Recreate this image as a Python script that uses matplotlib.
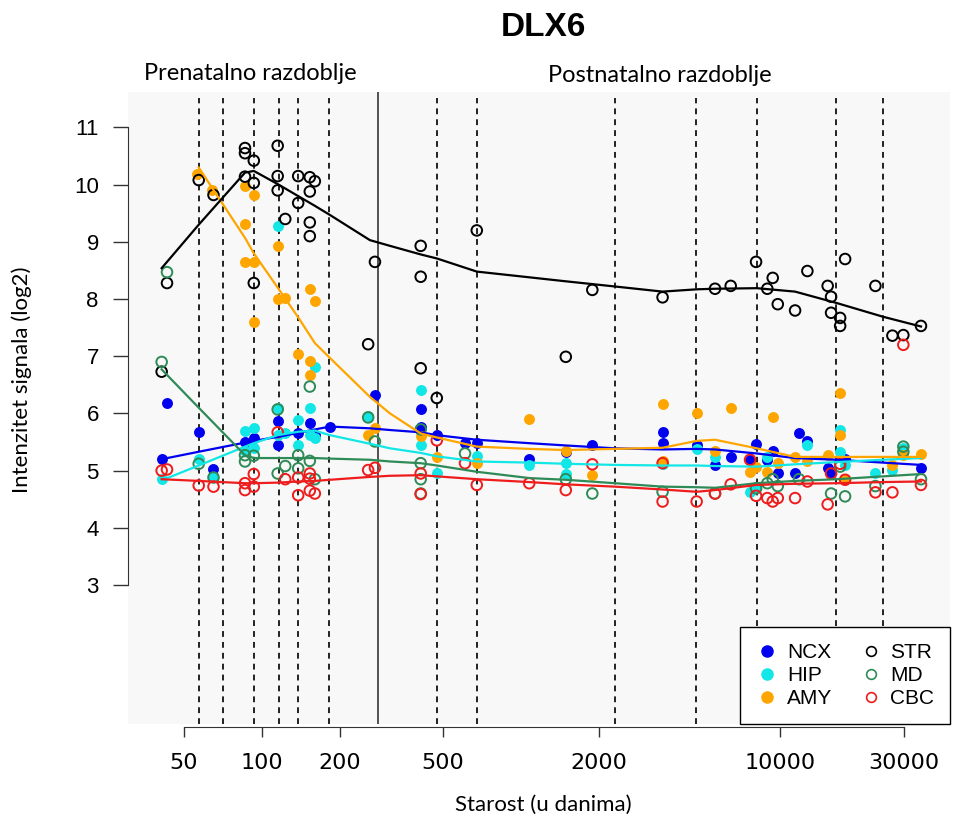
import numpy as np
import matplotlib.pyplot as plt
from matplotlib.lines import Line2D
from matplotlib.ticker import NullLocator

# age in days, signal intensity (log2)
ncx_age = [41, 43, 57, 65, 86, 93, 115, 115, 138, 153, 160, 183, 273, 410, 410, 473, 608, 675, 1076, 1489,
           1885, 3520, 3520, 4765, 5610, 6450, 7660, 8080, 8930, 9370, 9800, 11430, 11840, 12750, 15270,
           15740, 17830, 35000]
ncx_val = [5.21, 6.18, 5.67, 5.03, 5.50, 5.57, 5.86, 5.44, 5.66, 5.84, 5.62, 5.77, 6.32, 6.07, 5.76, 5.62,
           5.49, 5.48, 5.20, 5.33, 5.45, 5.67, 5.49, 5.45, 5.09, 5.24, 5.19, 5.47, 5.19, 5.35, 4.96, 4.96,
           5.65, 5.51, 5.04, 4.95, 5.20, 5.04]

hip_age = [41, 57, 65, 86, 93, 86, 93, 115, 115, 115, 123, 138, 138, 153, 160, 153, 160, 257, 410, 410,
           473, 675, 1076, 1489, 1489, 3520, 4765, 5610, 7660, 8080, 8930, 12750, 17060, 17060, 17830,
           23340, 27150, 29920]
hip_val = [4.85, 5.20, 4.88, 5.69, 5.74, 5.35, 5.39, 9.28, 6.10, 5.62, 5.65, 5.88, 5.45, 6.09, 6.82, 5.62,
           5.57, 5.95, 6.41, 5.45, 4.95, 5.25, 5.10, 5.13, 4.94, 5.11, 5.37, 5.24, 4.63, 4.72, 5.24, 5.45,
           5.71, 5.33, 5.10, 4.96, 5.01, 5.39]

amy_age = [56, 64, 86, 93, 86, 86, 93, 93, 115, 115, 123, 153, 160, 138, 153, 153, 257, 273, 410, 473,
           675, 1076, 1489, 1885, 3520, 3520, 4765, 5610, 6450, 7660, 8080, 8930, 9370, 9800, 11430,
           12750, 15270, 17060, 17060, 17830, 27150, 29920, 35000]
amy_val = [10.18, 9.91, 9.98, 9.82, 9.31, 8.65, 8.65, 7.59, 8.92, 8.00, 8.01, 8.18, 7.96, 7.04, 6.91, 6.67,
           5.62, 5.74, 5.61, 5.23, 5.13, 5.90, 5.35, 4.92, 6.16, 5.16, 6.00, 5.34, 6.09, 4.98, 5.07, 4.98,
           5.94, 5.13, 5.24, 5.16, 5.27, 6.35, 5.62, 4.85, 5.09, 5.27, 5.29]

str_age = [41, 43, 57, 65, 86, 86, 93, 86, 93, 93, 115, 115, 115, 123, 138, 138, 153, 160, 153, 153, 153,
           257, 273, 410, 410, 410, 473, 675, 1489, 1885, 3520, 5610, 6450, 8080, 8930, 9370, 9800, 11430,
           12750, 15270, 15740, 15740, 17060, 17060, 17830, 23340, 27150, 29920, 35000]
str_val = [6.73, 8.28, 10.08, 9.82, 10.64, 10.55, 10.42, 10.14, 10.03, 8.28, 10.68, 10.15, 9.90, 9.40,
           10.15, 9.68, 10.13, 10.06, 9.88, 9.34, 9.10, 7.21, 8.65, 8.93, 8.39, 6.79, 6.27, 9.20, 6.99,
           8.16, 8.03, 8.18, 8.23, 8.65, 8.18, 8.37, 7.91, 7.80, 8.49, 8.23, 8.04, 7.76, 7.67, 7.53, 8.70,
           8.23, 7.36, 7.37, 7.53]

md_age = [41, 43, 57, 65, 86, 86, 93, 115, 115, 123, 138, 138, 153, 153, 160, 257, 273, 410, 410, 410,
          410, 608, 1489, 1885, 3520, 5610, 8080, 8930, 9370, 9800, 11840, 15740, 17060, 17830, 23340,
          29920, 29920, 35000]
md_val = [6.90, 8.47, 5.12, 4.88, 5.27, 5.16, 5.26, 6.07, 4.95, 5.08, 5.27, 5.04, 6.47, 5.17, 4.85, 5.93,
          5.51, 5.72, 5.13, 4.85, 4.60, 5.30, 4.85, 4.60, 4.63, 4.60, 4.69, 4.78, 4.85, 4.73, 4.85, 4.60,
          5.07, 4.55, 4.73, 5.42, 5.33, 4.85]

cbc_age = [41, 43, 57, 65, 86, 86, 93, 93, 115, 123, 138, 138, 153, 153, 153, 160, 257, 273, 410, 410,
           473, 608, 675, 1076, 1489, 1885, 3520, 3520, 4765, 5610, 6450, 7660, 8080, 8930, 9370, 9800,
           11430, 12750, 15270, 15740, 17060, 17830, 23340, 27150, 29920, 35000]
cbc_val = [5.00, 5.02, 4.74, 4.72, 4.78, 4.66, 4.94, 4.72, 5.67, 4.85, 4.88, 4.57, 4.95, 4.86, 4.65, 4.60,
           5.01, 5.05, 4.95, 4.59, 5.53, 5.13, 4.75, 4.78, 4.66, 5.11, 4.46, 5.13, 4.46, 4.60, 4.76, 5.19,
           4.56, 4.52, 4.46, 4.52, 4.52, 4.81, 4.41, 4.95, 5.12, 4.84, 4.62, 4.62, 7.20, 4.75]

# smoothed curves
fit_age = [41, 57, 86, 93, 115, 138, 160, 183, 261, 312, 410, 473, 675, 1076, 1490, 2300, 3520, 4765,
           5610, 8130, 11430, 16560, 25000, 35000]
ncx_fit = [5.20, 5.33, 5.49, 5.52, 5.59, 5.66, 5.72, 5.77, 5.74, 5.71, 5.67, 5.62, 5.54, 5.48, 5.44, 5.39,
           5.37, 5.38, 5.37, 5.30, 5.22, 5.19, 5.14, 5.10]
hip_fit = [4.83, 5.09, 5.42, 5.48, 5.62, 5.68, 5.70, 5.62, 5.47, 5.39, 5.31, 5.25, 5.16, 5.14, 5.12, 5.10,
           5.09, 5.09, 5.08, 5.07, 5.11, 5.15, 5.19, 5.22]
amy_fit = [10.30, 9.07, 8.80, 8.20, 7.68, 7.23, 6.97, 6.29, 6.00, 5.65, 5.58, 5.42, 5.38, 5.36, 5.38,
           5.40, 5.52, 5.54, 5.39, 5.24, 5.24, 5.24, 5.24]  # starts at 57 days
str_fit = [8.54, 9.30, 10.21, 10.24, 10.01, 9.80, 9.63, 9.47, 9.03, 8.93, 8.78, 8.71, 8.48, 8.38, 8.31,
           8.22, 8.13, 8.17, 8.18, 8.19, 8.13, 7.93, 7.69, 7.52]
md_fit = [6.77, 6.10, 5.27, 5.22, 5.22, 5.22, 5.22, 5.21, 5.19, 5.16, 5.13, 5.09, 4.98, 4.87, 4.84, 4.78,
          4.72, 4.71, 4.70, 4.78, 4.82, 4.85, 4.90, 4.94]
cbc_fit = [4.85, 4.82, 4.78, 4.78, 4.79, 4.81, 4.82, 4.84, 4.89, 4.91, 4.92, 4.90, 4.85, 4.80, 4.76, 4.72,
           4.67, 4.63, 4.66, 4.75, 4.77, 4.78, 4.80, 4.81]

period_bounds = [57, 71, 93, 116, 138, 181, 473, 675, 2306, 4740, 8130, 16440, 25050]
birth = 281

x_ticks = [50, 100, 200, 500, 2000, 10000, 30000]
y_ticks = [3, 4, 5, 6, 7, 8, 9, 10, 11]

c_ncx, c_hip, c_amy = '#0000ee', '#12e6e6', '#ffa500'
c_str, c_md, c_cbc = 'black', '#2e8b57', '#ee1c1c'

fig = plt.figure(figsize=(9.57, 8.25), dpi=100)
ax = fig.add_axes([128/957, 1-724/825, (950-128)/957, (724-92)/825])
ax.set_facecolor('#f8f8f8')
ax.set_xscale('log')
ax.set_xlim(30.4, 45300)
ax.set_ylim(0.57, 11.62)

for d in period_bounds:
    ax.axvline(d, ymin=0, ymax=0.99, color='#222222', lw=1.4, ls=(0, (3, 2.6)), zorder=1)
ax.axvline(birth, color='#444444', lw=1.3, zorder=1)

ms = 62
ax.scatter(ncx_age, ncx_val, s=ms, color=c_ncx, lw=0, zorder=3)
ax.scatter(hip_age, hip_val, s=ms, color=c_hip, lw=0, zorder=3)
ax.scatter(amy_age, amy_val, s=ms, color=c_amy, lw=0, zorder=3)
ax.scatter(str_age, str_val, s=58, facecolors='none', edgecolors=c_str, lw=1.4, zorder=3)
ax.scatter(md_age, md_val, s=58, facecolors='none', edgecolors=c_md, lw=1.4, zorder=3)
ax.scatter(cbc_age, cbc_val, s=58, facecolors='none', edgecolors=c_cbc, lw=1.4, zorder=3)

ax.plot(fit_age, ncx_fit, color=c_ncx, lw=1.6, zorder=4)
ax.plot(fit_age, hip_fit, color=c_hip, lw=1.6, zorder=4)
ax.plot(fit_age[1:], amy_fit, color=c_amy, lw=1.6, zorder=4)
ax.plot(fit_age, str_fit, color=c_str, lw=1.6, zorder=4)
ax.plot(fit_age, md_fit, color=c_md, lw=1.6, zorder=4)
ax.plot(fit_age, cbc_fit, color=c_cbc, lw=1.6, zorder=4)

ax.set_xticks(x_ticks)
ax.set_xticklabels([str(t) for t in x_ticks], family='Liberation Sans')
ax.xaxis.set_minor_locator(NullLocator())
ax.set_yticks(y_ticks)
ax.set_yticklabels([str(t) for t in y_ticks], family='Liberation Sans')
ax.tick_params(axis='y', length=11, width=1, pad=10, labelsize=16, color='#333333')
ax.tick_params(axis='x', length=7, width=1, pad=12, labelsize=16, color='#333333')

for s in ['top', 'right']:
    ax.spines[s].set_visible(False)
ax.spines['left'].set_bounds(3, 11)
ax.spines['bottom'].set_bounds(50, 30000)
ax.spines['bottom'].set_position(('outward', 2))
ax.spines['left'].set_color('#333333')
ax.spines['bottom'].set_color('#333333')

handles = [
    Line2D([], [], ls='', marker='o', ms=8, color=c_ncx, label='NCX'),
    Line2D([], [], ls='', marker='o', ms=8, color=c_hip, label='HIP'),
    Line2D([], [], ls='', marker='o', ms=8, color=c_amy, label='AMY'),
    Line2D([], [], ls='', marker='o', ms=7, mfc='none', mec=c_str, mew=1.2, label='STR'),
    Line2D([], [], ls='', marker='o', ms=7, mfc='none', mec=c_md, mew=1.2, label='MD'),
    Line2D([], [], ls='', marker='o', ms=7, mfc='none', mec=c_cbc, mew=1.2, label='CBC'),
]
leg = ax.legend(handles=handles, ncol=2, loc='lower right', bbox_to_anchor=(1, 0), borderaxespad=0,
                fancybox=False, edgecolor='black', framealpha=1, facecolor='white',
                prop={'family': 'Liberation Sans', 'size': 15}, handletextpad=0.4,
                columnspacing=1.3, labelspacing=0.2, borderpad=0.75, handlelength=1.1)
leg.get_frame().set_linewidth(1)
leg.set_zorder(6)

fig.text(543/957, 1-28/825, 'DLX6', ha='center', va='center', fontsize=24, fontweight='bold',
         family='Liberation Sans')
fig.text(250/957, 1-73/825, 'Prenatalno razdoblje', ha='center', va='center', fontsize=17, family='Lato')
fig.text(660/957, 1-76/825, 'Postnatalno razdoblje', ha='center', va='center', fontsize=17, family='Lato')
fig.text(22/957, 1-380/825, 'Intenzitet signala (log2)', ha='center', va='center', rotation=90,
         fontsize=16, family='Lato')
fig.text(543/957, 1-805/825, 'Starost (u danima)', ha='center', va='center', fontsize=16, family='Lato')

fig.savefig('out.png', dpi=100)
